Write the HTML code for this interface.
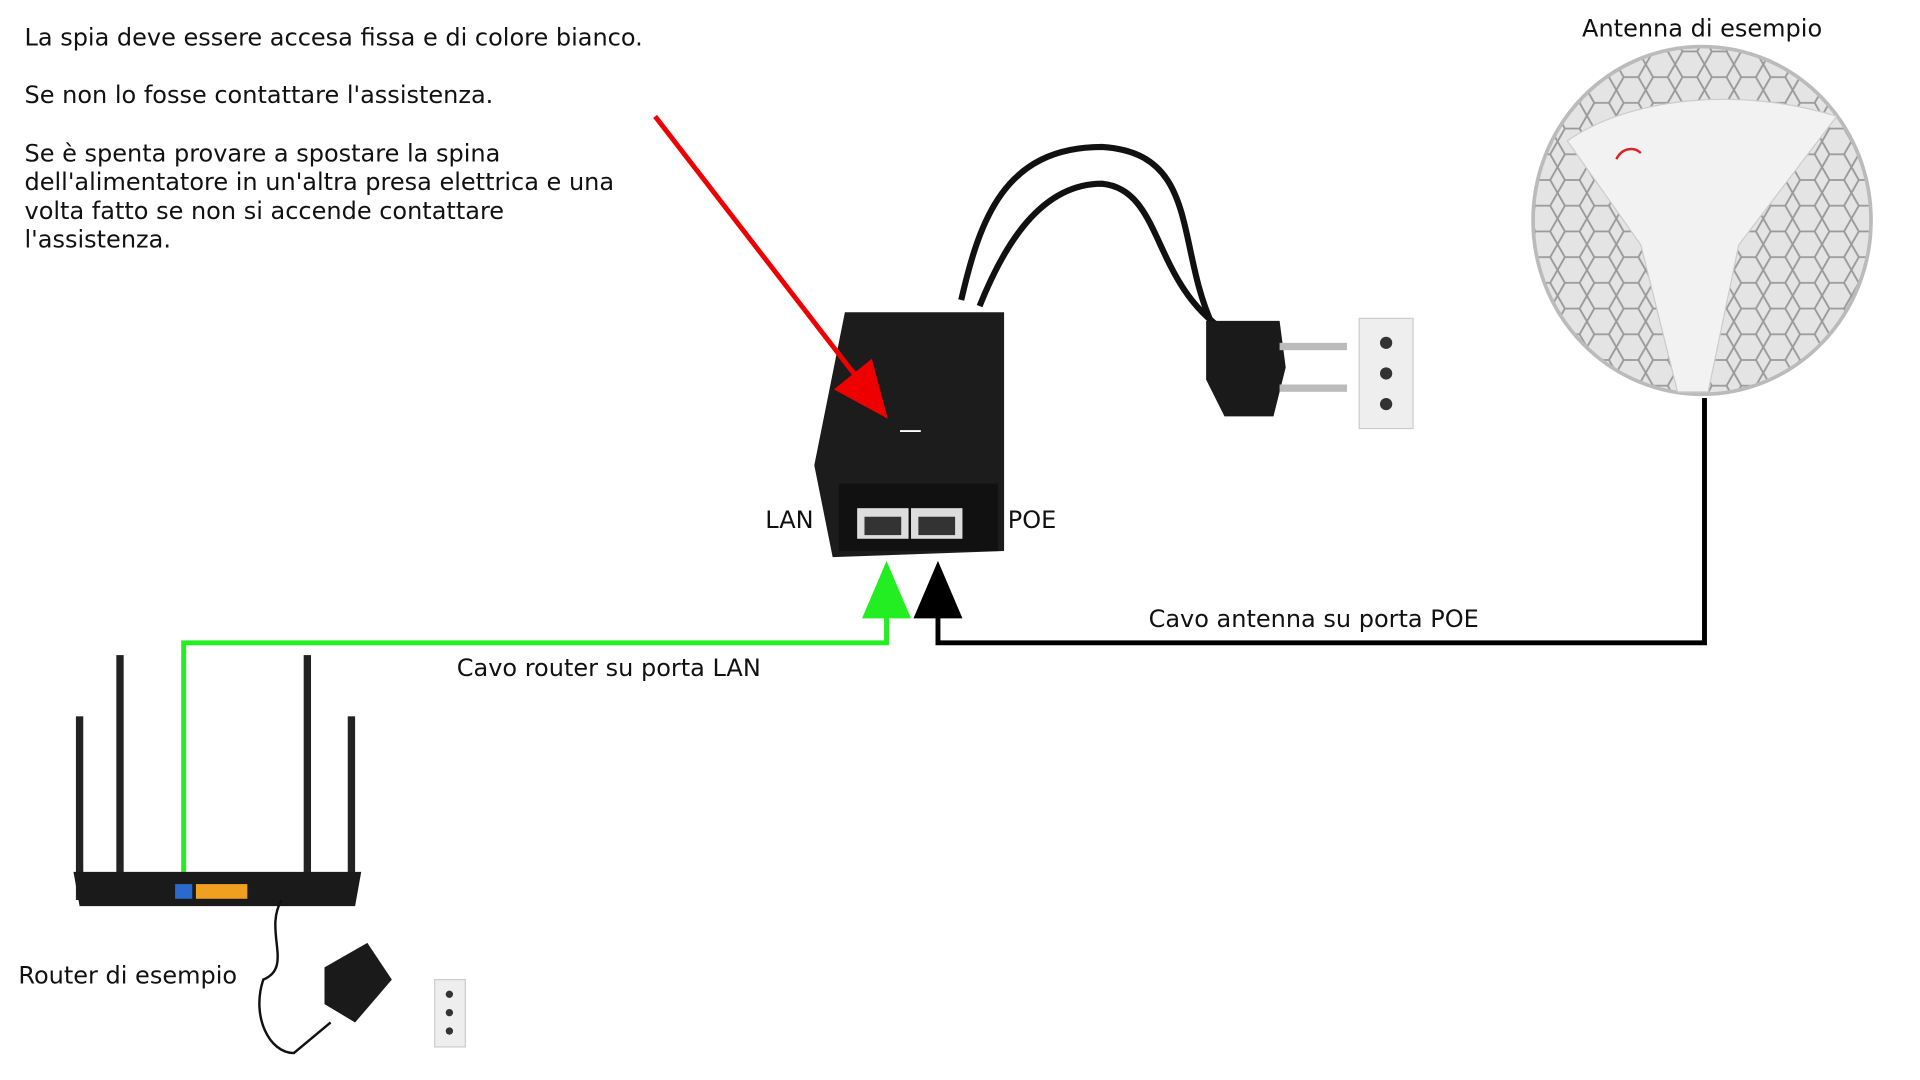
<!DOCTYPE html>
<html><head><meta charset="utf-8"><style>
html,body{margin:0;padding:0;background:#fff;}
svg{display:block;}
text{font-family:"DejaVu Sans","Liberation Sans",sans-serif;fill:#111;}
</style></head><body>
<svg width="1920" height="1080" viewBox="0 0 1568 882" preserveAspectRatio="none" xmlns="http://www.w3.org/2000/svg">
<defs>
<pattern id="hex" width="24" height="21" patternUnits="userSpaceOnUse">
<rect width="24" height="21" fill="#e4e4e4"/>
<path d="M6,0 L18,0 L24,10.5 L18,21 L6,21 L0,10.5 Z" fill="none" stroke="#999" stroke-width="1.5"/>
</pattern>
</defs>
<rect width="1568" height="882" fill="#fff"/>
<g font-size="19.6">
<text x="20" y="37">La spia deve essere accesa fissa e di colore bianco.</text>
<text x="20" y="84">Se non lo fosse contattare l'assistenza.</text>
<text x="20" y="132">Se è spenta provare a spostare la spina</text>
<text x="20" y="155">dell'alimentatore in un'altra presa elettrica e una</text>
<text x="20" y="179">volta fatto se non si accende contattare</text>
<text x="20" y="202">l'assistenza.</text>
<text x="1292" y="30">Antenna di esempio</text>
<text x="625" y="431">LAN</text>
<text x="823" y="431">POE</text>
<text x="938" y="512">Cavo antenna su porta POE</text>
<text x="373" y="552">Cavo router su porta LAN</text>
<text x="15" y="803">Router di esempio</text>
</g>
<path d="M785,245 C800,180 820,120 900,120 C980,125 960,200 990,265" fill="none" stroke="#111" stroke-width="5"/>
<path d="M800,250 C820,200 850,150 900,150 C950,155 940,230 1000,270" fill="none" stroke="#111" stroke-width="5"/>
<path d="M985,262 L1045,262 L1050,300 L1040,340 L1000,340 L985,310 Z" fill="#1a1a1a"/>
<rect x="1045" y="280" width="55" height="6" fill="#bbb"/>
<rect x="1045" y="314" width="55" height="6" fill="#bbb"/>
<rect x="1110" y="260" width="44" height="90" fill="#eee" stroke="#ccc"/>
<circle cx="1132" cy="280" r="5" fill="#333"/><circle cx="1132" cy="305" r="5" fill="#333"/><circle cx="1132" cy="330" r="5" fill="#333"/>
<path d="M690,255 L820,255 L820,450 L680,455 L665,380 Z" fill="#1c1c1c"/>
<rect x="685" y="395" width="130" height="55" fill="#111"/>
<rect x="700" y="415" width="42" height="25" fill="#ddd"/>
<rect x="744" y="415" width="42" height="25" fill="#ddd"/>
<rect x="706" y="422" width="30" height="15" fill="#333"/>
<rect x="750" y="422" width="30" height="15" fill="#333"/>
<line x1="735" y1="352" x2="752" y2="352" stroke="#fff" stroke-width="1.5"/>
<line x1="535" y1="95" x2="705" y2="315" stroke="#e00" stroke-width="4"/>
<polygon points="725,342 681,318 712,293" fill="#e00"/>
<ellipse cx="1390" cy="180" rx="138" ry="142" fill="url(#hex)" stroke="#bbb" stroke-width="3"/>
<path d="M1280,115 C1330,80 1420,70 1500,95 L1420,200 L1395,320 L1370,320 L1340,200 Z" fill="#f2f2f2" stroke="#ccc"/>
<path d="M1320,130 C1325,120 1335,120 1340,125" fill="none" stroke="#d22" stroke-width="2"/>
<polyline points="150,712 150,525 724,525 724,500" fill="none" stroke="#22ee22" stroke-width="4"/>
<polygon points="704,505 744,505 724,458" fill="#22ee22"/>
<polyline points="1392,325 1392,525 766,525 766,500" fill="none" stroke="#000" stroke-width="4"/>
<polygon points="746,505 786,505 766,458" fill="#000"/>
<rect x="95" y="535" width="6" height="180" fill="#222"/>
<rect x="248" y="535" width="6" height="180" fill="#222"/>
<rect x="62" y="585" width="6" height="150" fill="#222"/>
<rect x="284" y="585" width="6" height="150" fill="#222"/>
<path d="M60,712 L295,712 L290,740 L65,740 Z" fill="#1a1a1a"/>
<rect x="143" y="722" width="14" height="12" fill="#2a6acc"/>
<rect x="160" y="722" width="42" height="12" fill="#f0a020"/>
<path d="M230,735 C215,760 240,790 215,800 C205,830 220,860 240,860 L270,835" fill="none" stroke="#111" stroke-width="2"/>
<path d="M265,790 L300,770 L320,800 L290,835 L265,820 Z" fill="#1a1a1a"/>
<rect x="355" y="800" width="25" height="55" fill="#eee" stroke="#ccc"/>
<circle cx="367" cy="812" r="3" fill="#333"/><circle cx="367" cy="827" r="3" fill="#333"/><circle cx="367" cy="842" r="3" fill="#333"/>
</svg>
</body></html>
